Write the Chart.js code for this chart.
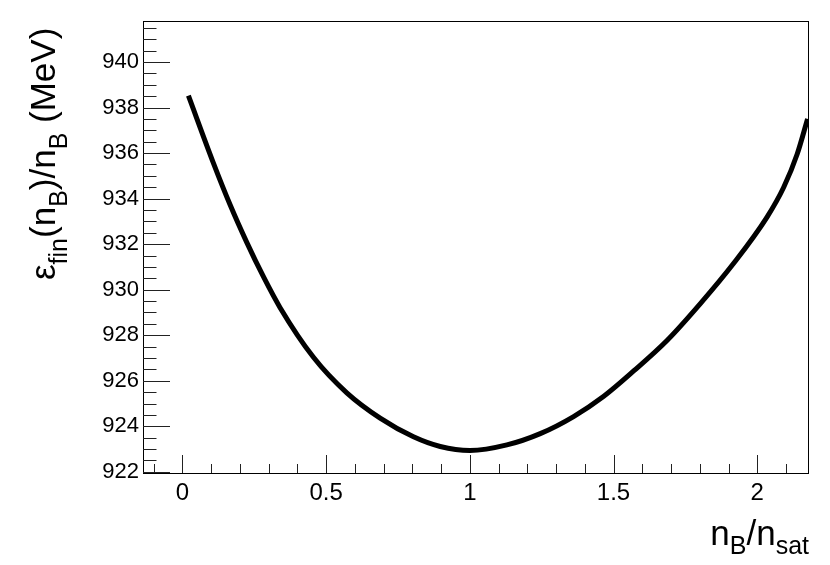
<!DOCTYPE html>
<html>
<head>
<meta charset="utf-8">
<script src="https://cdn.jsdelivr.net/npm/chart.js@4"></script>
<style>
    html, body { margin: 0; padding: 0; background: #fff; }
    canvas { display: block; }
</style>
</head>
<body>
<canvas id="chart" width="830" height="565"></canvas>
<script>
'use strict';

// values
const nRatio = [0.021, 0.108, 0.166, 0.224, 0.282, 0.34, 0.456, 0.572, 0.688, 0.804, 0.897, 1.0,
    1.129, 1.245, 1.361, 1.466, 1.57, 1.686, 1.802, 1.918, 2.034, 2.092, 2.139, 2.175];
const energy = [938.52, 935.56, 933.73, 932.08, 930.57, 929.21, 927.03, 925.47, 924.36, 923.54, 923.115, 922.94,
    923.185, 923.68, 924.43, 925.32, 926.43, 927.77, 929.39, 931.16, 933.19, 934.5, 935.96, 937.5];

const xTicks = [0, 0.5, 1, 1.5, 2];
const yTicks = [922, 924, 926, 928, 930, 932, 934, 936, 938, 940];
const xMinorStep = 0.1;
const yMinorStep = 0.5;

const FONT = '"Liberation Sans", Arial, Helvetica, sans-serif';

// draws a string made of [text, isSubscript] parts, left to right
function drawRich(ctx, parts, mainSize, subSize, subDrop) {
    let x = 0;
    parts.forEach(p => {
        const sub = p[1];
        ctx.font = (sub ? subSize : mainSize) + 'px ' + FONT;
        ctx.fillText(p[0], x, sub ? subDrop : 0);
        x += ctx.measureText(p[0]).width;
    });
    return x;
}

function richWidth(ctx, parts, mainSize, subSize) {
    let w = 0;
    parts.forEach(p => {
        ctx.font = (p[1] ? subSize : mainSize) + 'px ' + FONT;
        w += ctx.measureText(p[0]).width;
    });
    return w;
}

// ROOT like frame, inward ticks and axis titles
const rootFrame = {
    id: 'rootFrame',
    afterDraw(chart) {
        const ctx = chart.ctx;
        const area = chart.chartArea;
        const xs = chart.scales.x;
        const ys = chart.scales.y;

        ctx.save();
        ctx.strokeStyle = '#000';
        ctx.lineWidth = 1;
        ctx.strokeRect(area.left + 0.5, area.top + 0.5, area.right - area.left - 1, area.bottom - area.top);

        ctx.strokeStyle = '#222';
        ctx.beginPath();
        // x ticks
        for (let v = Math.ceil(xs.min / xMinorStep) * xMinorStep; v <= xs.max; v += xMinorStep) {
            const px = Math.round(xs.getPixelForValue(v)) + 0.5;
            const major = xTicks.some(t => Math.abs(t - v) < 1e-6);
            ctx.moveTo(px, area.bottom);
            ctx.lineTo(px, area.bottom - (major ? 18 : 9));
        }
        // y ticks
        for (let v = Math.ceil(ys.min / yMinorStep) * yMinorStep; v <= ys.max; v += yMinorStep) {
            const py = Math.round(ys.getPixelForValue(v)) + 0.5;
            const major = yTicks.some(t => Math.abs(t - v) < 1e-6);
            ctx.moveTo(area.left, py);
            ctx.lineTo(area.left + (major ? 27 : 13.5), py);
        }
        ctx.stroke();

        ctx.fillStyle = '#000';
        ctx.textBaseline = 'alphabetic';

        // x title, right aligned
        const xTitle = [['n', false], ['B', true], ['/n', false], ['sat', true]];
        const w = richWidth(ctx, xTitle, 35, 25);
        ctx.save();
        ctx.translate(area.right - w, 545);
        drawRich(ctx, xTitle, 35, 25, 9);
        ctx.restore();

        // y title, rotated
        const yTitle = [['\u03B5', false], ['fin', true], ['(n', false], ['B', true], [')/n', false], ['B', true], [' (MeV)', false]];
        ctx.save();
        ctx.translate(55, 280);
        ctx.rotate(-Math.PI / 2);
        drawRich(ctx, yTitle, 35, 25, 12);
        ctx.restore();

        ctx.restore();
    }
};

const ctx = document.getElementById('chart').getContext('2d');

new Chart(ctx, {
    type: 'line',
    data: {
        datasets: [{
            data: nRatio.map((n, i) => ({ x: n, y: energy[i] })),
            borderColor: '#000',
            borderWidth: 5,
            pointRadius: 0,
            fill: false,
            cubicInterpolationMode: 'monotone'
        }]
    },
    options: {
        responsive: false,
        devicePixelRatio: 1,
        animation: false,
        layout: { padding: { top: 21, right: 21, left: 0, bottom: 0 } },
        plugins: {
            legend: { display: false },
            tooltip: { enabled: false }
        },
        scales: {
            x: {
                type: 'linear',
                min: -0.137,
                max: 2.18,
                grid: { display: false, drawTicks: false },
                border: { display: false },
                ticks: {
                    color: '#000',
                    font: { family: FONT, size: 24 },
                    padding: 6,
                    maxRotation: 0,
                    autoSkip: false,
                    callback: v => String(v)
                },
                afterBuildTicks: scale => { scale.ticks = xTicks.map(v => ({ value: v })); },
                afterFit: scale => { scale.height = 92; }
            },
            y: {
                min: 921.95,
                max: 941.8,
                grid: { display: false, drawTicks: false },
                border: { display: false },
                ticks: {
                    color: '#000',
                    font: { family: FONT, size: 22 },
                    padding: 4,
                    autoSkip: false,
                    callback: v => String(v)
                },
                afterBuildTicks: scale => { scale.ticks = yTicks.map(v => ({ value: v })); },
                afterFit: scale => { scale.width = 143; }
            }
        }
    },
    plugins: [rootFrame]
});
</script>
</body>
</html>
